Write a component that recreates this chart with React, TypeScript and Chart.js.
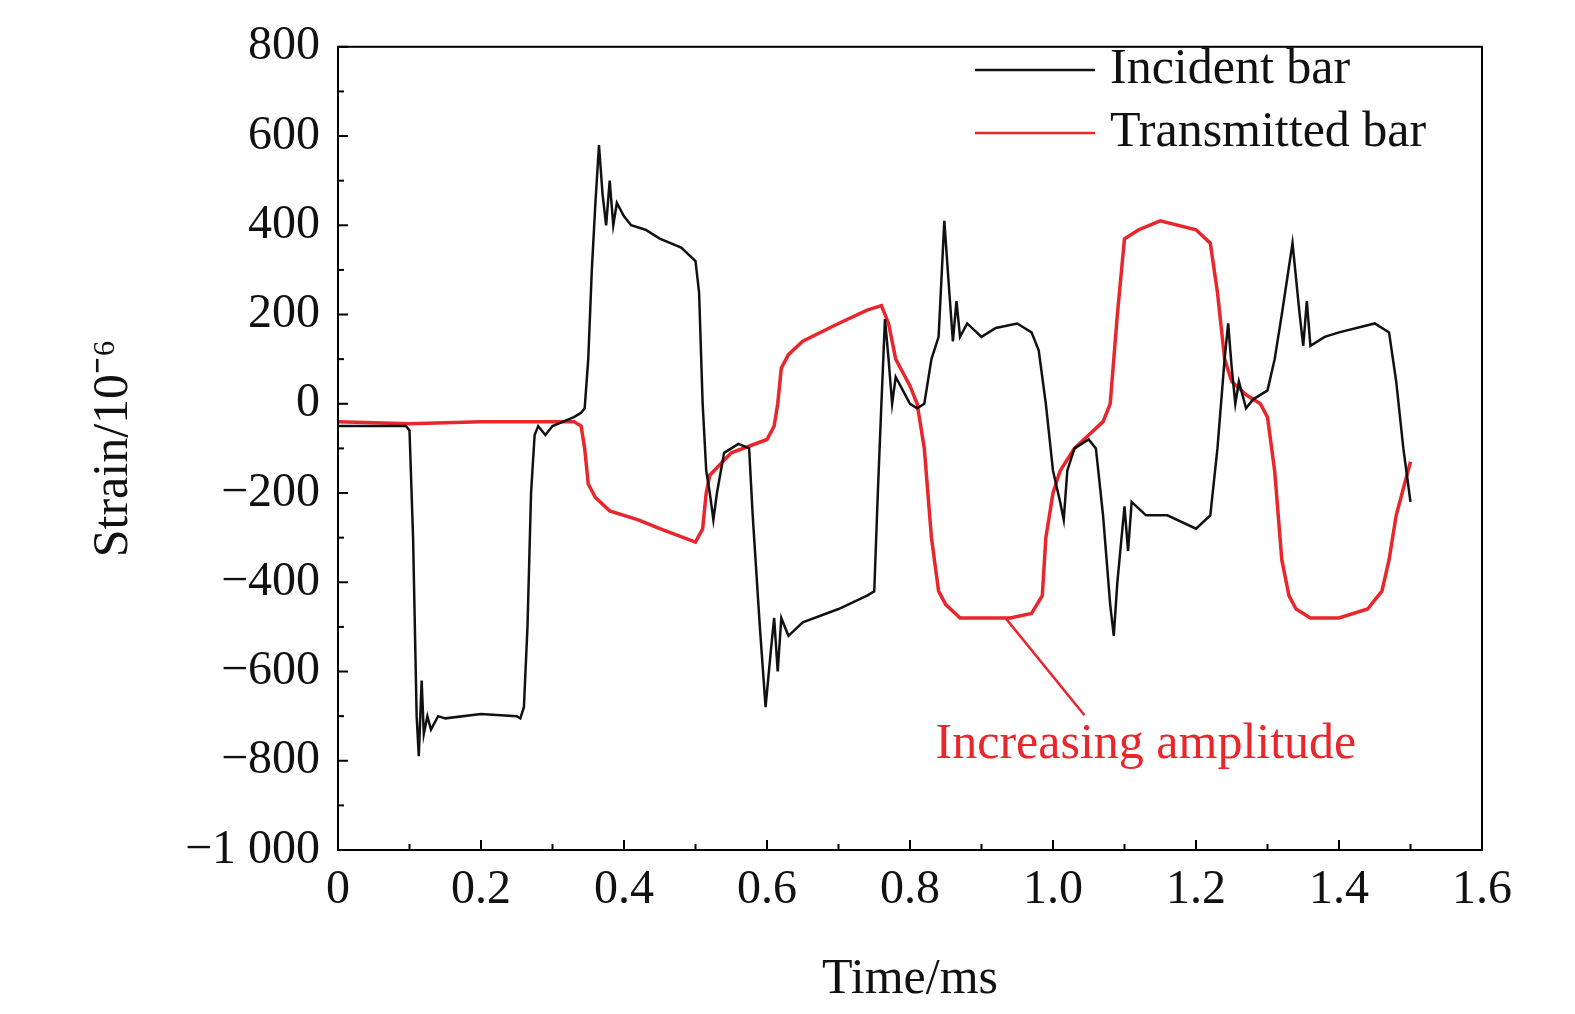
import React, { useEffect, useRef } from "react";
import { Chart, registerables } from "chart.js";
Chart.register(...registerables);

const incX = [0,0.095,0.1,0.105,0.11,0.113,0.117,0.12,0.125,0.13,0.14,0.15,0.2,0.25,0.255,0.26,0.265,0.27,0.275,0.28,0.29,0.3,0.33,0.34,0.345,0.35,0.355,0.36,0.365,0.37,0.375,0.38,0.385,0.39,0.4,0.41,0.43,0.45,0.48,0.5,0.505,0.51,0.515,0.52,0.525,0.53,0.54,0.56,0.575,0.58,0.59,0.598,0.605,0.61,0.615,0.62,0.63,0.65,0.7,0.74,0.75,0.755,0.76,0.765,0.77,0.775,0.78,0.79,0.8,0.81,0.82,0.83,0.84,0.848,0.855,0.86,0.865,0.87,0.88,0.9,0.92,0.95,0.97,0.98,0.99,1.0,1.01,1.015,1.02,1.03,1.05,1.06,1.07,1.08,1.085,1.09,1.1,1.105,1.11,1.13,1.16,1.2,1.22,1.23,1.24,1.245,1.25,1.255,1.26,1.27,1.28,1.29,1.3,1.31,1.32,1.335,1.345,1.35,1.355,1.36,1.38,1.4,1.45,1.47,1.48,1.49,1.5];
const incY = [-50,-50,-60,-300,-700,-790,-620,-740,-700,-730,-700,-705,-695,-700,-705,-680,-500,-200,-70,-50,-70,-50,-30,-20,-10,100,300,450,580,470,400,500,400,450,420,400,390,370,350,320,250,0,-150,-200,-260,-200,-110,-90,-100,-250,-500,-680,-560,-480,-600,-480,-520,-490,-460,-430,-420,-200,0,190,100,0,60,30,0,-10,0,100,150,410,250,140,230,150,180,150,170,180,160,120,0,-150,-220,-260,-150,-100,-80,-100,-250,-450,-520,-400,-230,-330,-220,-250,-250,-280,-250,-100,100,180,80,0,50,-10,10,20,30,100,200,360,200,130,230,130,150,160,180,160,50,-100,-220];
const trX = [0,0.1,0.2,0.33,0.34,0.345,0.35,0.36,0.38,0.42,0.45,0.5,0.51,0.515,0.52,0.55,0.6,0.61,0.615,0.62,0.63,0.65,0.7,0.74,0.76,0.77,0.78,0.79,0.8,0.81,0.82,0.83,0.84,0.85,0.87,0.9,0.94,0.97,0.985,0.99,1.0,1.01,1.03,1.05,1.07,1.08,1.09,1.1,1.12,1.15,1.2,1.22,1.23,1.24,1.25,1.27,1.29,1.3,1.31,1.32,1.33,1.34,1.36,1.4,1.44,1.46,1.47,1.48,1.5];
const trY = [-40,-45,-40,-40,-50,-100,-180,-210,-240,-260,-280,-310,-280,-200,-160,-110,-80,-50,0,80,110,140,180,210,220,180,100,70,40,0,-100,-300,-420,-450,-480,-480,-480,-470,-430,-300,-200,-150,-100,-70,-40,0,200,370,390,410,390,360,250,100,50,20,0,-30,-150,-350,-430,-460,-480,-480,-460,-420,-350,-250,-130];
const xTicks = ["0","0.2","0.4","0.6","0.8","1.0","1.2","1.4","1.6"];
const yTicks = ["−1 000","−800","−600","−400","−200","0","200","400","600","800"];

const F = "'Liberation Serif', 'Times New Roman', serif";

export default function App() {
  const ref = useRef<HTMLCanvasElement>(null);
  useEffect(() => {
    const deco = {
      id: "deco",
      afterDraw(c: any) {
        const ctx = c.ctx, a = c.chartArea, xs = c.scales.x, ys = c.scales.y;
        ctx.save();
        ctx.strokeStyle = "#000"; ctx.lineWidth = 2;
        ctx.strokeRect(a.left, a.top, a.right - a.left, a.bottom - a.top);
        for (let i = 0; i <= 16; i++) {
          const px = xs.getPixelForValue(i / 10);
          const len = i % 2 === 0 ? 10 : 6;
          ctx.beginPath(); ctx.moveTo(px, a.bottom); ctx.lineTo(px, a.bottom - len); ctx.stroke();
        }
        for (let v = -1000; v <= 800; v += 100) {
          const py = ys.getPixelForValue(v);
          const len = v % 200 === 0 ? 10 : 6;
          ctx.beginPath(); ctx.moveTo(a.left, py); ctx.lineTo(a.left + len, py); ctx.stroke();
        }
        ctx.font = `50px ${F}`; ctx.textBaseline = "middle"; ctx.textAlign = "left";
        [["Incident bar", "#111", 70], ["Transmitted bar", "#e8262b", 133]].forEach(([t, col, y]: any) => {
          ctx.strokeStyle = col; ctx.lineWidth = 2.5;
          ctx.beginPath(); ctx.moveTo(975, y); ctx.lineTo(1095, y); ctx.stroke();
          ctx.fillStyle = "#111"; ctx.fillText(t, 1110, y);
        });
        ctx.strokeStyle = "#e8262b"; ctx.lineWidth = 2.5;
        ctx.beginPath();
        ctx.moveTo(xs.getPixelForValue(0.9345), ys.getPixelForValue(-482));
        ctx.lineTo(xs.getPixelForValue(1.044), ys.getPixelForValue(-698));
        ctx.stroke();
        ctx.fillStyle = "#e8262b"; ctx.textAlign = "center";
        ctx.fillText("Increasing amplitude", xs.getPixelForValue(1.13), ys.getPixelForValue(-765));
        ctx.restore();
      },
    };
    const chart = new Chart(ref.current!, {
      type: "line",
      data: {
        datasets: [
          { data: incX.map((x, i) => ({ x, y: incY[i] })), borderColor: "#111", borderWidth: 2.5, pointRadius: 0 },
          { data: trX.map((x, i) => ({ x, y: trY[i] })), borderColor: "#e8262b", borderWidth: 3.5, pointRadius: 0 },
        ],
      },
      options: {
        animation: false, responsive: false,
        layout: { padding: { top: 11, right: 93, left: 80, bottom: 0 } },
        plugins: { legend: { display: false }, tooltip: { enabled: false } },
        scales: {
          x: {
            type: "linear", min: 0, max: 1.6,
            afterFit: (s: any) => { s.height = 164; },
            afterBuildTicks: (s: any) => { s.ticks = xTicks.map((_, i) => ({ value: i * 0.2 })); },
            ticks: { callback: (_v: any, i: number) => xTicks[i], font: { family: F, size: 48 }, color: "#111", padding: 12, maxRotation: 0 },
            grid: { display: false, drawTicks: false }, border: { display: false },
            title: { display: true, text: "Time/ms", font: { family: F, size: 50 }, color: "#111", padding: { top: 18 } },
          },
          y: {
            min: -1000, max: 800,
            afterFit: (s: any) => { s.width = 258; },
            afterBuildTicks: (s: any) => { s.ticks = yTicks.map((_, i) => ({ value: -1000 + i * 200 })); },
            ticks: { callback: (_v: any, i: number) => yTicks[i], font: { family: F, size: 48 }, color: "#111", padding: 18 },
            grid: { display: false, drawTicks: false }, border: { display: false },
            title: { display: true, text: "Strain/10⁻⁶", font: { family: F, size: 50 }, color: "#111", padding: { bottom: 0 } },
          },
        },
      },
      plugins: [deco],
    } as any);
    return () => chart.destroy();
  }, []);
  return (
    <div style={{ position: "fixed", left: 0, top: 0, width: 1575, height: 1014, background: "#fff" }}>
      <canvas ref={ref} width={1575} height={1014} style={{ width: 1575, height: 1014 }} />
    </div>
  );
}
